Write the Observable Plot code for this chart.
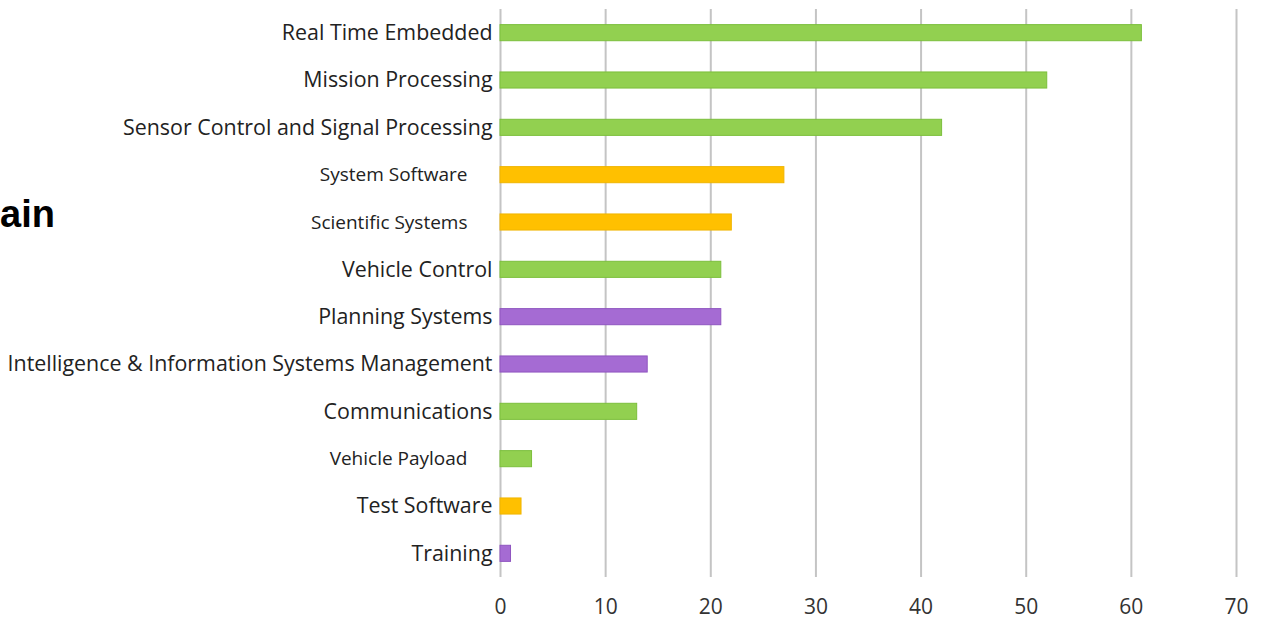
<!DOCTYPE html>
<html>
<head>
<meta charset="utf-8">
<script src="https://cdn.jsdelivr.net/npm/d3@7"></script>
<script src="https://cdn.jsdelivr.net/npm/@observablehq/plot@0.6"></script>
<style>
  html, body { margin: 0; padding: 0; background: #fff; }
  #wrap { position: relative; width: 1263px; height: 622px; overflow: hidden; }
  #cut { position: absolute; left: 0; top: 195px; font-family: "Liberation Sans", Arial, sans-serif; font-weight: bold; font-size: 38px; color: #000; line-height: 1; }
</style>
</head>
<body>
<div id="wrap"><div id="cut">ain</div></div>
<script>
const categories = [
  "Real Time Embedded",
  "Mission Processing",
  "Sensor Control and Signal Processing",
  "System Software",
  "Scientific Systems",
  "Vehicle Control",
  "Planning Systems",
  "Intelligence & Information Systems Management",
  "Communications",
  "Vehicle Payload",
  "Test Software",
  "Training"
];
const values = [61, 52, 42, 27, 22, 21, 21, 14, 13, 3, 2, 1];
const groups = ["green", "green", "green", "orange", "orange", "green", "purple", "purple", "green", "green", "orange", "purple"];
const xTicks = [0, 10, 20, 30, 40, 50, 60, 70];

const data = categories.map((c, i) => ({category: c, value: values[i], group: groups[i]}));

const smallLabels = new Set(["System Software", "Scientific Systems", "Vehicle Payload"]);
const fillColors = {green: "#92d050", orange: "#ffc000", purple: "#a56bd3"};
const strokeColors = {green: "#7cbf3c", orange: "#f0b400", purple: "#8f55c0"};

const labelFont = "'Open Sans', Lato, sans-serif";

const chart = Plot.plot({
  width: 1263,
  height: 622,
  marginLeft: 500,
  marginRight: 27,
  marginTop: 9,
  marginBottom: 45,
  style: {background: "transparent", fontFamily: labelFont, color: "#222"},
  x: {domain: [0, 70], ticks: xTicks, label: null},
  y: {domain: categories, paddingInner: 0.66, paddingOuter: 0.33, round: false, label: null, axis: null},
  marks: [
    Plot.ruleX(xTicks, {stroke: "#c4c4c4", strokeWidth: 2}),
    Plot.axisX({ticks: xTicks, tickSize: 0, tickPadding: 22, fontSize: 21, fill: "#333", label: null}),
    Plot.barX(data, {
      x: "value", y: "category",
      fill: d => fillColors[d.group],
      stroke: d => strokeColors[d.group],
      strokeWidth: 1
    }),
    Plot.text(data.filter(d => !smallLabels.has(d.category)), {
      x: 0, y: "category", text: "category",
      textAnchor: "end", dx: -8, fontSize: 21.4, fill: "#222", fontFamily: labelFont
    }),
    Plot.text(data.filter(d => smallLabels.has(d.category)), {
      x: 0, y: "category", text: "category",
      textAnchor: "end", dx: -33, fontSize: 19, fill: "#222", fontFamily: labelFont
    })
  ]
});
document.getElementById("wrap").appendChild(chart);
</script>
</body>
</html>
